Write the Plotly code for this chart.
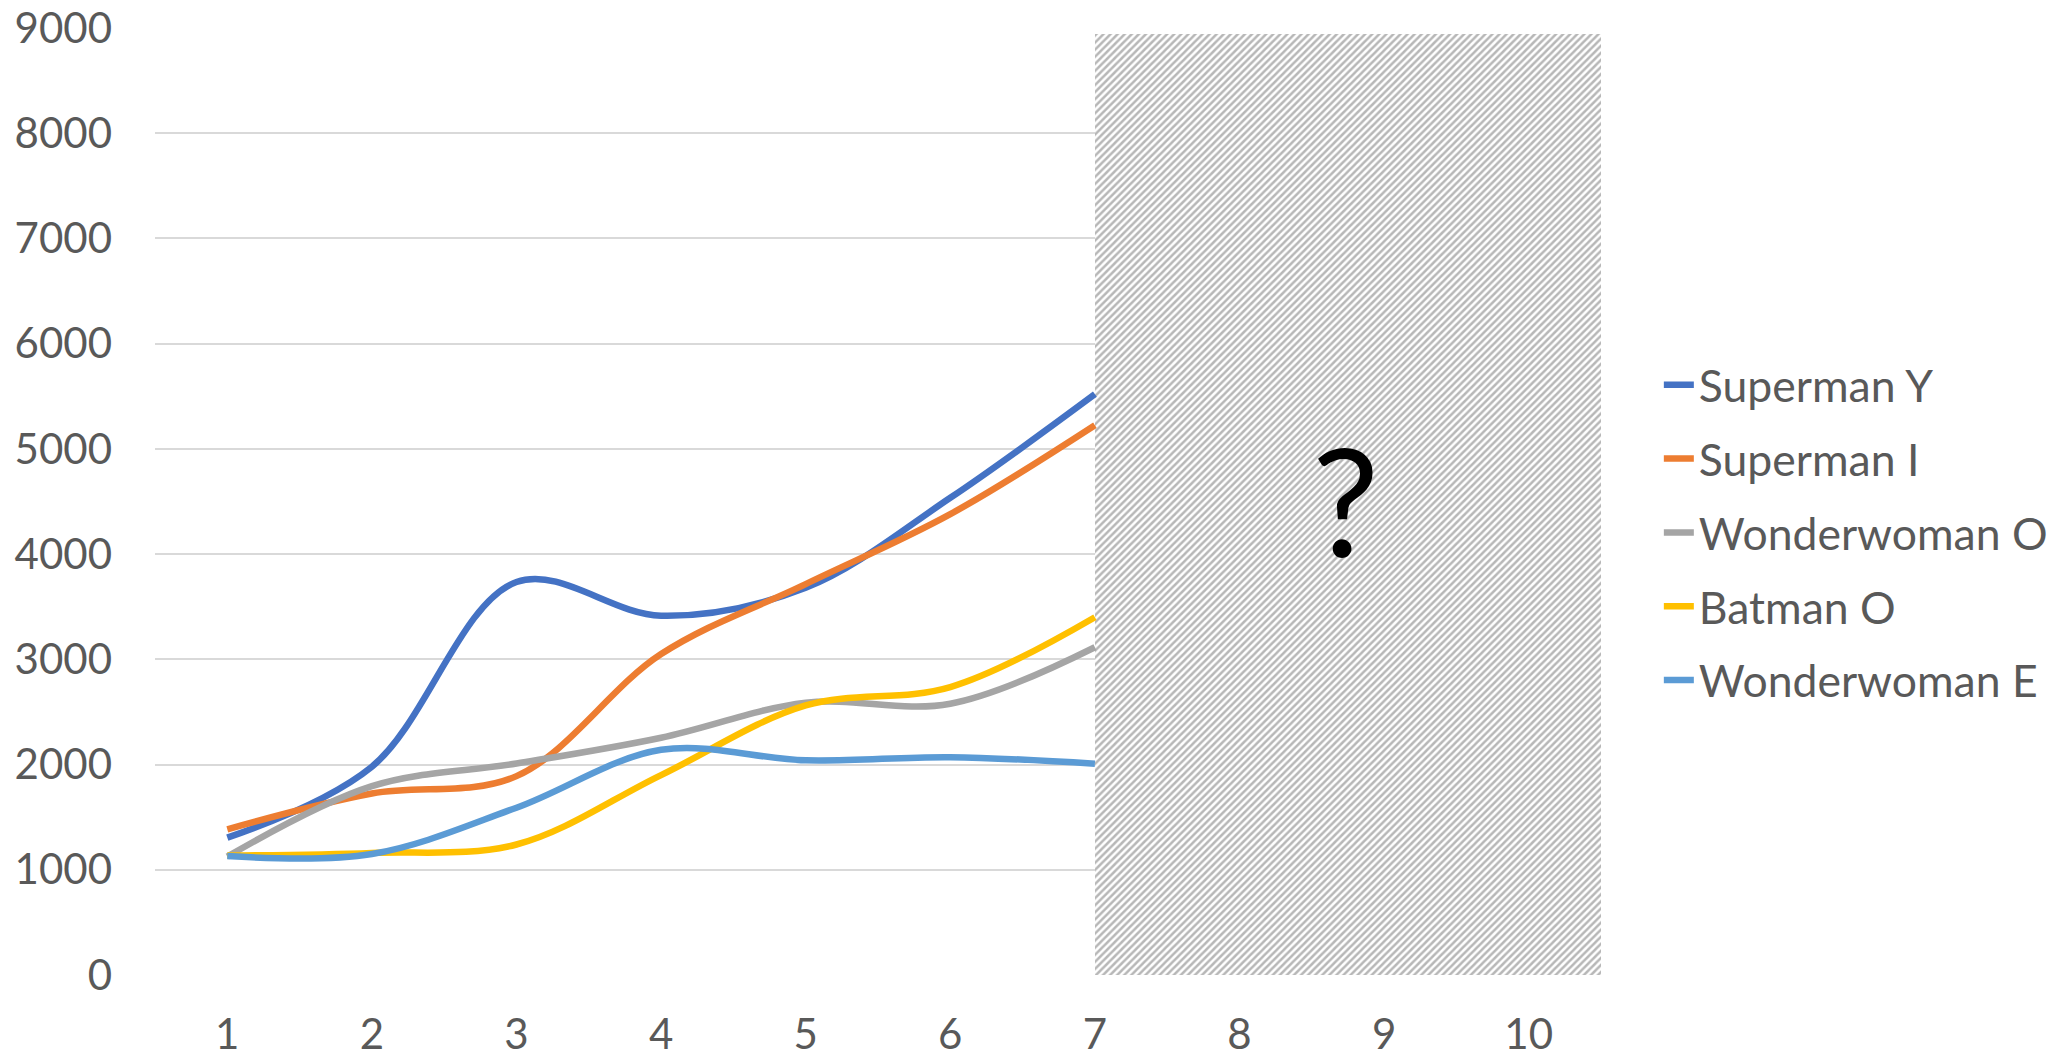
import plotly.graph_objects as go

categories = [1, 2, 3, 4, 5, 6, 7, 8, 9, 10]
x_known = [1, 2, 3, 4, 5, 6, 7]

superman_y = [1305, 1980, 3735, 3415, 3680, 4535, 5520]
superman_i = [1385, 1725, 1890, 3050, 3715, 4380, 5225]
wonderwoman_o = [1125, 1795, 2010, 2255, 2587, 2578, 3115]
batman_o = [1135, 1160, 1240, 1900, 2562, 2736, 3400]
wonderwoman_e = [1130, 1150, 1590, 2140, 2040, 2070, 2008]

series_names = ["Superman Y", "Superman I", "Wonderwoman O", "Batman O", "Wonderwoman E"]
series_values = [superman_y, superman_i, wonderwoman_o, batman_o, wonderwoman_e]
series_colors = ["#4472C4", "#ED7D31", "#A5A5A5", "#FFC000", "#5B9BD5"]

unknown_start = 7
unknown_end = 10.5
unknown_top = 8940
unknown_label = "?"
unknown_label_y = 4520

y_ticks = [0, 1000, 2000, 3000, 4000, 5000, 6000, 7000, 8000, 9000]

FONT = "Lato"
TXT = "#595959"

fig = go.Figure()

# hatched "unknown" region
fig.add_trace(go.Bar(
    x=[(unknown_start + unknown_end) / 2],
    y=[unknown_top],
    width=[unknown_end - unknown_start],
    marker=dict(color="white", line=dict(width=0),
                pattern=dict(shape="/", fgcolor="#707070", bgcolor="white",
                             size=5, solidity=0.5)),
    showlegend=False, hoverinfo="skip",
))

for i, (name, vals, col) in enumerate(zip(series_names, series_values, series_colors)):
    fig.add_trace(go.Scatter(
        x=x_known, y=vals, name=name, mode="lines",
        line=dict(color=col, width=6.5, shape="spline", smoothing=1.0),
        legendgroup=f"g{i}",
    ))

fig.add_annotation(
    x=(unknown_start + unknown_end) / 2 - 0.02, y=unknown_label_y,
    text=unknown_label, showarrow=False,
    font=dict(family=FONT, size=150, color="black"),
    xref="x", yref="y",
)

fig.update_layout(
    width=2063, height=1058,
    margin=dict(l=155, r=462, t=28, b=83, autoexpand=False),
    paper_bgcolor="white", plot_bgcolor="white",
    font=dict(family=FONT, size=42, color=TXT),
    showlegend=True,
    legend=dict(
        x=1.04, xanchor="left", y=0.467, yanchor="middle",
        font=dict(family=FONT, size=44.5, color=TXT),
        tracegroupgap=13, traceorder="grouped",
        bgcolor="rgba(0,0,0,0)", borderwidth=0,
    ),
    bargap=0,
)

fig.update_xaxes(
    range=[0.5, 10.5], tickmode="array", tickvals=categories,
    ticktext=[str(c) for c in categories],
    showgrid=False, zeroline=False, showline=False, ticks="",
    tickfont=dict(family=FONT, size=42, color=TXT),
    ticklabelstandoff=31, fixedrange=True, automargin=False,
)
fig.update_yaxes(
    range=[0, 9000], tickmode="array", tickvals=y_ticks,
    showgrid=True, gridcolor="#D9D9D9", gridwidth=1.5,
    zeroline=False, showline=False, ticks="",
    tickfont=dict(family=FONT, size=42, color=TXT),
    ticklabelstandoff=42, fixedrange=True, automargin=False,
)

fig.write_html("out.html", config={"displayModeBar": False},
               post_script="document.body.style.margin='0';document.body.style.overflow='hidden';")
